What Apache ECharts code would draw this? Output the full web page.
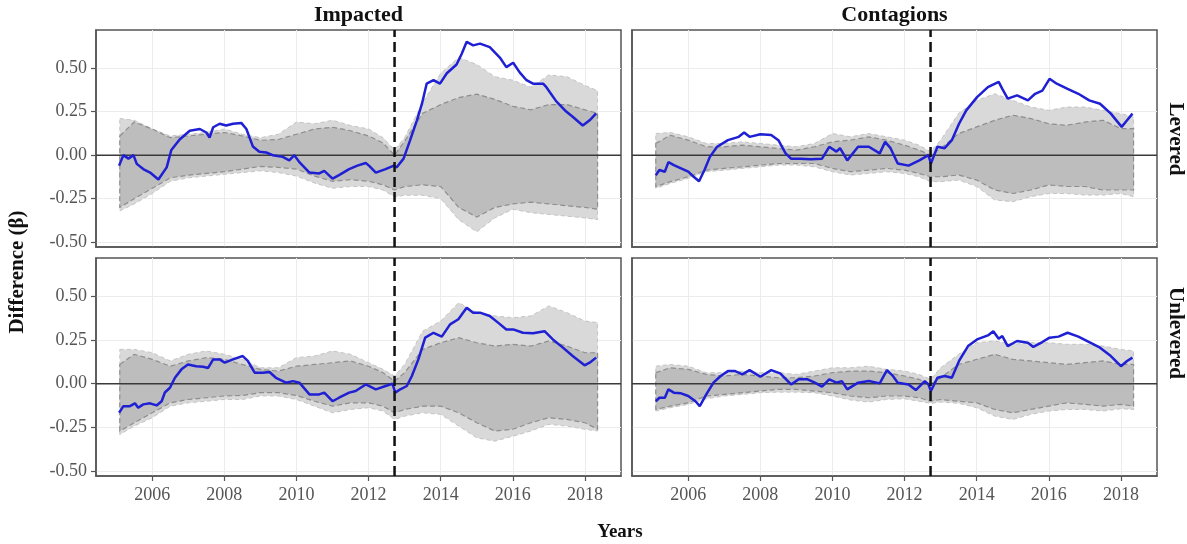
<!DOCTYPE html>
<html><head><meta charset="utf-8">
<script src="https://cdn.jsdelivr.net/npm/echarts@6/dist/echarts.min.js"></script>
<style>html,body{margin:0;padding:0;background:#fff}#c{width:1187px;height:544px}</style>
</head><body><div id="c"></div>
<script>
// ---------- tick labels / facet labels ----------
const xTicks = [2006, 2008, 2010, 2012, 2014, 2016, 2018];
const yTicks = [-0.5, -0.25, 0, 0.25, 0.5];
const colLabels = ['Impacted', 'Contagions'];
const rowLabels = ['Levered', 'Unlevered'];
const breakYear = 2012.72;

// ---------- ribbon sample years (shared) ----------
const bandYears = [2005.1,2005.5,2006,2006.5,2007,2007.5,2008,2008.5,2009,2009.5,2010,2010.5,2011,2011.5,2012,2012.4,2012.72,2013,2013.5,2014,2014.5,2015,2015.5,2016,2016.5,2017,2017.5,2018,2018.35];

// ---------- Impacted / Levered ----------
const tlOuterHi = [0.21,0.20,0.15,0.11,0.12,0.13,0.15,0.12,0.10,0.12,0.19,0.18,0.20,0.17,0.15,0.10,0.03,0.10,0.30,0.47,0.56,0.52,0.45,0.43,0.39,0.46,0.45,0.40,0.37];
const tlInnerHi = [0.11,0.19,0.15,0.10,0.11,0.12,0.13,0.11,0.085,0.09,0.12,0.15,0.16,0.14,0.11,0.07,0.0,0.08,0.24,0.29,0.33,0.35,0.32,0.28,0.26,0.29,0.29,0.26,0.24];
const tlInnerLo = [-0.30,-0.25,-0.19,-0.13,-0.115,-0.105,-0.095,-0.08,-0.065,-0.07,-0.08,-0.12,-0.15,-0.14,-0.15,-0.17,-0.20,-0.18,-0.17,-0.18,-0.30,-0.355,-0.30,-0.28,-0.27,-0.28,-0.29,-0.30,-0.31];
const tlOuterLo = [-0.32,-0.28,-0.22,-0.15,-0.13,-0.12,-0.11,-0.10,-0.09,-0.10,-0.12,-0.16,-0.19,-0.18,-0.18,-0.20,-0.24,-0.23,-0.23,-0.25,-0.37,-0.44,-0.36,-0.31,-0.33,-0.34,-0.35,-0.36,-0.37];
const tlLineYears = [2005.08,2005.20,2005.34,2005.48,2005.57,2005.75,2005.94,2006.17,2006.40,2006.53,2006.76,2007.04,2007.32,2007.50,2007.59,2007.69,2007.87,2008.05,2008.24,2008.47,2008.61,2008.79,2008.97,2009.16,2009.34,2009.62,2009.80,2009.94,2010.08,2010.36,2010.63,2010.77,2011.00,2011.18,2011.46,2011.69,2011.92,2012.01,2012.20,2012.47,2012.70,2012.78,2012.97,2013.15,2013.34,2013.48,2013.61,2013.80,2013.98,2014.17,2014.44,2014.58,2014.72,2014.90,2015.09,2015.36,2015.64,2015.82,2016.01,2016.19,2016.38,2016.56,2016.84,2016.93,2017.20,2017.48,2017.66,2017.94,2018.13,2018.31];
const tlLineVals = [-0.06,0.0,-0.02,0.0,-0.05,-0.08,-0.10,-0.14,-0.07,0.03,0.09,0.14,0.15,0.13,0.10,0.16,0.18,0.17,0.18,0.185,0.15,0.05,0.02,0.015,0.0,-0.01,-0.03,0.0,-0.04,-0.10,-0.105,-0.09,-0.135,-0.115,-0.08,-0.06,-0.045,-0.06,-0.10,-0.08,-0.06,-0.07,-0.02,0.085,0.20,0.295,0.41,0.43,0.41,0.47,0.52,0.58,0.65,0.63,0.64,0.62,0.56,0.505,0.53,0.475,0.43,0.41,0.41,0.39,0.31,0.25,0.22,0.17,0.20,0.24];

// ---------- Contagions / Levered ----------
const trOuterHi = [0.124,0.13,0.105,0.067,0.067,0.076,0.067,0.057,0.048,0.067,0.124,0.105,0.124,0.105,0.086,0.057,0.02,0.086,0.24,0.314,0.352,0.314,0.276,0.257,0.276,0.276,0.257,0.238,0.219];
const trInnerHi = [0.067,0.114,0.086,0.048,0.048,0.057,0.048,0.038,0.029,0.048,0.076,0.086,0.105,0.086,0.057,0.029,0.0,0.038,0.124,0.162,0.20,0.229,0.21,0.18,0.171,0.19,0.20,0.152,0.152];
const trInnerLo = [-0.18,-0.152,-0.124,-0.086,-0.076,-0.067,-0.057,-0.048,-0.048,-0.048,-0.076,-0.095,-0.086,-0.076,-0.086,-0.105,-0.124,-0.124,-0.114,-0.143,-0.20,-0.22,-0.20,-0.171,-0.18,-0.18,-0.20,-0.20,-0.20];
const trOuterLo = [-0.19,-0.162,-0.133,-0.095,-0.086,-0.076,-0.067,-0.057,-0.057,-0.067,-0.095,-0.114,-0.105,-0.095,-0.105,-0.124,-0.152,-0.152,-0.143,-0.18,-0.257,-0.267,-0.238,-0.22,-0.22,-0.229,-0.229,-0.22,-0.238];
const trLineYears = [2005.10,2005.20,2005.35,2005.45,2005.60,2005.80,2006.00,2006.15,2006.30,2006.45,2006.60,2006.80,2007.10,2007.40,2007.55,2007.70,2008.00,2008.30,2008.50,2008.70,2008.85,2009.10,2009.40,2009.71,2009.91,2010.11,2010.21,2010.41,2010.71,2011.01,2011.31,2011.46,2011.61,2011.81,2012.11,2012.41,2012.66,2012.73,2012.91,2013.11,2013.31,2013.51,2013.71,2014.01,2014.31,2014.61,2014.71,2014.86,2015.12,2015.42,2015.62,2015.82,2016.02,2016.22,2016.52,2016.82,2017.12,2017.42,2017.72,2018.02,2018.17,2018.32];
const trLineVals = [-0.115,-0.085,-0.095,-0.04,-0.057,-0.076,-0.095,-0.124,-0.15,-0.085,-0.01,0.048,0.086,0.105,0.13,0.105,0.12,0.115,0.086,0.01,-0.02,-0.02,-0.023,-0.02,0.048,0.02,0.04,-0.03,0.048,0.048,0.01,0.076,0.04,-0.048,-0.06,-0.03,0.0,-0.048,0.048,0.04,0.086,0.18,0.257,0.333,0.39,0.42,0.38,0.324,0.343,0.314,0.352,0.37,0.438,0.41,0.38,0.352,0.314,0.295,0.238,0.162,0.20,0.238];

// ---------- Impacted / Unlevered ----------
const blOuterHi = [0.196,0.196,0.177,0.13,0.168,0.187,0.168,0.139,0.091,0.091,0.149,0.158,0.187,0.168,0.12,0.082,0.044,0.11,0.30,0.358,0.463,0.406,0.387,0.377,0.387,0.444,0.406,0.358,0.349];
const blInnerHi = [0.11,0.168,0.139,0.10,0.13,0.149,0.139,0.11,0.082,0.072,0.10,0.11,0.12,0.13,0.10,0.063,0.015,0.063,0.196,0.234,0.263,0.234,0.215,0.225,0.215,0.244,0.215,0.177,0.177];
const blInnerLo = [-0.27,-0.223,-0.166,-0.109,-0.09,-0.08,-0.07,-0.067,-0.051,-0.051,-0.067,-0.10,-0.128,-0.109,-0.109,-0.128,-0.166,-0.147,-0.128,-0.128,-0.166,-0.223,-0.27,-0.26,-0.223,-0.194,-0.204,-0.223,-0.26];
const blOuterLo = [-0.29,-0.242,-0.194,-0.128,-0.109,-0.10,-0.09,-0.09,-0.07,-0.07,-0.09,-0.128,-0.166,-0.147,-0.137,-0.156,-0.204,-0.185,-0.166,-0.175,-0.242,-0.309,-0.328,-0.30,-0.27,-0.232,-0.242,-0.26,-0.27];
const blLineYears = [2005.08,2005.20,2005.38,2005.52,2005.61,2005.75,2005.94,2006.12,2006.26,2006.35,2006.49,2006.63,2006.81,2006.99,2007.22,2007.41,2007.55,2007.69,2007.87,2008.01,2008.24,2008.51,2008.65,2008.84,2009.07,2009.25,2009.43,2009.71,2009.90,2010.08,2010.36,2010.63,2010.77,2011.00,2011.18,2011.46,2011.64,2011.92,2012.20,2012.47,2012.66,2012.74,2012.88,2013.06,2013.20,2013.38,2013.57,2013.80,2014.03,2014.26,2014.49,2014.72,2014.90,2015.09,2015.36,2015.59,2015.82,2016.01,2016.28,2016.56,2016.88,2017.11,2017.39,2017.66,2017.99,2018.13,2018.31];
const blLineVals = [-0.166,-0.128,-0.128,-0.112,-0.137,-0.118,-0.112,-0.124,-0.10,-0.05,-0.023,0.034,0.082,0.11,0.10,0.097,0.09,0.139,0.139,0.12,0.139,0.158,0.13,0.063,0.063,0.067,0.034,0.006,0.015,0.006,-0.061,-0.061,-0.051,-0.10,-0.08,-0.051,-0.042,-0.004,-0.032,-0.013,0.0,-0.051,-0.032,-0.013,0.044,0.139,0.263,0.291,0.269,0.339,0.368,0.434,0.406,0.406,0.387,0.349,0.31,0.31,0.291,0.288,0.30,0.253,0.206,0.158,0.105,0.12,0.149];

// ---------- Contagions / Unlevered ----------
const brOuterHi = [0.10,0.11,0.10,0.063,0.063,0.072,0.063,0.063,0.053,0.072,0.091,0.091,0.10,0.082,0.072,0.053,0.025,0.091,0.168,0.234,0.244,0.225,0.234,0.234,0.225,0.225,0.215,0.196,0.187];
const brInnerHi = [0.063,0.091,0.082,0.053,0.044,0.053,0.044,0.034,0.034,0.044,0.063,0.072,0.072,0.063,0.044,0.025,-0.004,0.034,0.11,0.139,0.168,0.139,0.13,0.12,0.11,0.12,0.13,0.11,0.11];
const brInnerLo = [-0.147,-0.128,-0.109,-0.07,-0.061,-0.051,-0.042,-0.032,-0.032,-0.042,-0.051,-0.07,-0.08,-0.07,-0.07,-0.08,-0.10,-0.09,-0.10,-0.109,-0.147,-0.166,-0.147,-0.128,-0.109,-0.118,-0.128,-0.118,-0.128];
const brOuterLo = [-0.156,-0.137,-0.118,-0.086,-0.07,-0.061,-0.051,-0.048,-0.048,-0.051,-0.07,-0.093,-0.105,-0.09,-0.086,-0.10,-0.112,-0.105,-0.112,-0.137,-0.185,-0.204,-0.175,-0.156,-0.147,-0.147,-0.156,-0.143,-0.147];
const brLineYears = [2005.10,2005.20,2005.35,2005.45,2005.60,2005.80,2006.00,2006.20,2006.32,2006.50,2006.70,2006.90,2007.10,2007.30,2007.50,2007.70,2008.00,2008.30,2008.55,2008.85,2009.06,2009.31,2009.51,2009.71,2009.91,2010.11,2010.26,2010.41,2010.71,2011.01,2011.31,2011.51,2011.66,2011.81,2012.11,2012.31,2012.56,2012.66,2012.73,2012.91,2013.11,2013.31,2013.51,2013.76,2014.01,2014.31,2014.46,2014.61,2014.71,2014.86,2015.12,2015.42,2015.57,2015.82,2016.02,2016.27,2016.52,2016.82,2017.12,2017.42,2017.72,2018.00,2018.17,2018.32];
const brLineVals = [-0.10,-0.08,-0.08,-0.032,-0.051,-0.055,-0.07,-0.10,-0.128,-0.061,0.006,0.044,0.072,0.072,0.053,0.078,0.04,0.078,0.059,-0.004,0.025,0.025,0.006,-0.017,0.025,0.006,0.015,-0.032,0.006,0.015,0.002,0.078,0.048,0.006,-0.004,-0.036,0.015,-0.004,-0.042,0.034,0.044,0.034,0.13,0.215,0.253,0.276,0.30,0.257,0.272,0.215,0.244,0.234,0.21,0.238,0.263,0.269,0.291,0.269,0.238,0.206,0.158,0.10,0.13,0.149];

// ---------- build ----------
const X_MIN = 2004.44, X_MAX = 2019.0;
const Y_MIN = -0.527, Y_MAX = 0.718;
const SERIF = '"Liberation Serif","DejaVu Serif",serif';

const panels = [
  {grid:{left:96, top:30, width:525, height:217}, bottom:false, left:true,
   oh:tlOuterHi, ih:tlInnerHi, il:tlInnerLo, ol:tlOuterLo, ly:tlLineYears, lv:tlLineVals},
  {grid:{left:632, top:30, width:525, height:217}, bottom:false, left:false,
   oh:trOuterHi, ih:trInnerHi, il:trInnerLo, ol:trOuterLo, ly:trLineYears, lv:trLineVals},
  {grid:{left:96, top:258, width:525, height:218}, bottom:true, left:true,
   oh:blOuterHi, ih:blInnerHi, il:blInnerLo, ol:blOuterLo, ly:blLineYears, lv:blLineVals},
  {grid:{left:632, top:258, width:525, height:218}, bottom:true, left:false,
   oh:brOuterHi, ih:brInnerHi, il:brInnerLo, ol:brOuterLo, ly:brLineYears, lv:brLineVals}
];

const grids = [], xAxes = [], yAxes = [], series = [];
panels.forEach((p, i) => {
  grids.push(Object.assign({show:true, borderColor:'#555', borderWidth:1.5, backgroundColor:'#fff'}, p.grid));
  xAxes.push({type:'value', gridIndex:i, min:X_MIN, max:X_MAX,
    axisLine:{show:true, onZero:false, lineStyle:{color:'#555', width:1.5}},
    axisTick:{show:p.bottom, length:5, customValues:xTicks, lineStyle:{color:'#555', width:1.2}},
    axisLabel:{show:p.bottom, customValues:xTicks, margin:10, fontFamily:SERIF, fontSize:18, color:'#555',
      formatter: v => String(Math.round(v))},
    splitLine:{show:true, lineStyle:{color:'#ececec', width:1}}});
  yAxes.push({type:'value', gridIndex:i, min:Y_MIN, max:Y_MAX,
    axisLine:{show:true, onZero:false, lineStyle:{color:'#555', width:1.5}},
    axisTick:{show:p.left, length:5, customValues:yTicks, lineStyle:{color:'#555', width:1.2}},
    axisLabel:{show:p.left, customValues:yTicks, margin:9, fontFamily:SERIF, fontSize:18, color:'#555',
      formatter: v => v.toFixed(2)},
    splitLine:{show:true, lineStyle:{color:'#ececec', width:1}}});

  const hi = (arr) => bandYears.map((y, k) => [y, arr[k]]);
  series.push({
    type:'custom', xAxisIndex:i, yAxisIndex:i, z:1, silent:true,
    data:[[bandYears[0], 0]],
    renderItem: function (params, api) {
      const poly = (up, lo) => hi(up).map(d => api.coord(d)).concat(hi(lo).reverse().map(d => api.coord(d)));
      return {type:'group', children:[
        {type:'polygon', shape:{points:poly(p.oh, p.ol)},
         style:{fill:'#d9d9d9', stroke:'#c4c4c4', lineWidth:1, lineDash:[4,3]}},
        {type:'polygon', shape:{points:poly(p.ih, p.il)},
         style:{fill:'#bdbdbd', stroke:'#8e8e8e', lineWidth:1.2, lineDash:[5,3]}}
      ]};
    }
  });
  series.push({
    type:'custom', xAxisIndex:i, yAxisIndex:i, z:3, silent:true,
    data:[[X_MIN, 0]],
    renderItem: function (params, api) {
      const a = api.coord([X_MIN, 0]), b = api.coord([X_MAX, 0]);
      return {type:'line', shape:{x1:a[0], y1:a[1], x2:b[0], y2:b[1]},
        style:{stroke:'#3a3a3a', lineWidth:1.5}};
    }
  });
  series.push({
    type:'line', xAxisIndex:i, yAxisIndex:i, z:4, silent:true, showSymbol:false, symbol:'none',
    data: p.ly.map((y, k) => [y, p.lv[k]]),
    lineStyle:{color:'#1f1fd4', width:2.5}
  });
  series.push({
    type:'custom', xAxisIndex:i, yAxisIndex:i, z:5, silent:true,
    data:[[breakYear, 0]],
    renderItem: function (params, api) {
      const a = api.coord([breakYear, Y_MIN]), b = api.coord([breakYear, Y_MAX]);
      return {type:'line', shape:{x1:a[0], y1:a[1], x2:b[0], y2:b[1]},
        style:{stroke:'#111', lineWidth:2.5, lineDash:[10,5]}};
    }
  });
});

const txt = (text, x, y, size, rot) => ({
  type:'text', x:x, y:y, rotation:rot || 0, silent:true,
  style:{text:text, font:'bold ' + size + 'px ' + SERIF, fill:'#111',
    align:'center', verticalAlign:'middle', textAlign:'center', textVerticalAlign:'middle'}
});

const chart = echarts.init(document.getElementById('c'), null, {renderer:'canvas'});
chart.setOption({
  animation:false,
  backgroundColor:'#fff',
  grid:grids, xAxis:xAxes, yAxis:yAxes, series:series,
  graphic:[
    txt(colLabels[0], 358.5, 15, 22),
    txt(colLabels[1], 894.5, 15, 22),
    txt(rowLabels[0], 1175, 139, 21, -Math.PI/2),
    txt(rowLabels[1], 1175, 333, 21, -Math.PI/2),
    txt('Difference (β)', 18, 272, 21, Math.PI/2),
    txt('Years', 620, 532, 19)
  ]
});
</script>
</body></html>
